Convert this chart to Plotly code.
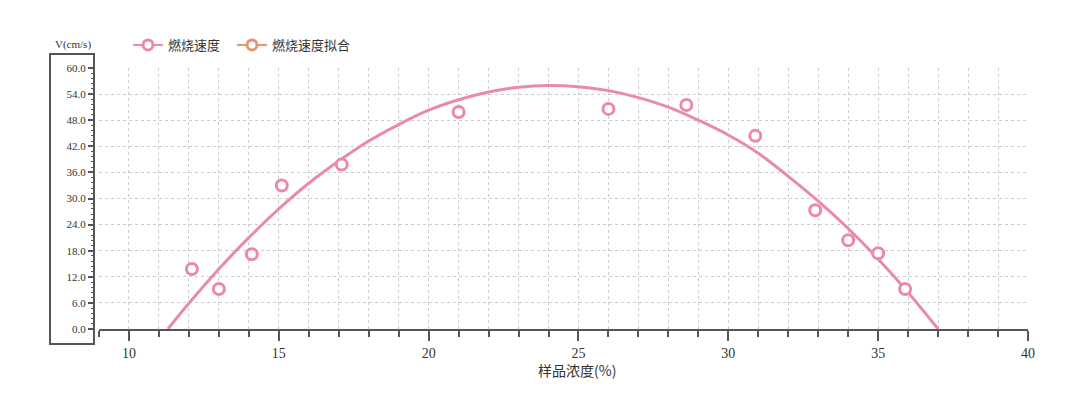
import plotly.graph_objects as go

# Measured data: sample concentration (%) vs burning velocity (cm/s)
conc = [12.1, 13.0, 14.1, 15.1, 17.1, 21.0, 26.0, 28.6, 30.9, 32.9, 34.0, 35.0, 35.9]
speed = [13.8, 9.2, 17.2, 33.0, 37.8, 49.9, 50.6, 51.5, 44.4, 27.3, 20.4, 17.4, 9.2]

# Fitted curve
fit_x = [11.3, 12, 13, 14, 15, 16, 17, 18, 19, 20, 21, 22, 23, 24, 25, 26, 27,
         28, 29, 30, 31, 32, 33, 34, 35, 36, 37]
fit_y = [0.0, 5.9, 13.8, 21.0, 27.6, 33.5, 38.6, 43.2, 47.0, 50.3, 52.7, 54.5,
         55.6, 56.0, 55.7, 54.8, 53.2, 51.0, 48.0, 44.6, 40.4, 35.1, 29.4, 23.1,
         16.1, 8.4, 0.0]

x_ticks = [10, 15, 20, 25, 30, 35, 40]
y_ticks = [0, 6, 12, 18, 24, 30, 36, 42, 48, 54, 60]

PINK = "#ea8aab"
ORANGE = "#e8956e"
AX = "#555555"
GRID = "#cccccc"

L, R, T, B = 94, 52, 68, 68
W, H = 1080, 397
pw, ph = W - L - R, H - T - B

fig = go.Figure()
fig.add_trace(go.Scatter(x=fit_x, y=fit_y, mode="lines", line=dict(color=PINK, width=3, shape="spline"),
                         showlegend=False, hoverinfo="skip"))
fig.add_trace(go.Scatter(x=conc, y=speed, mode="markers", name="燃烧速度", showlegend=False,
                         marker=dict(symbol="circle", size=11, color="white",
                                     line=dict(color=PINK, width=3))))
# legend entries
fig.add_trace(go.Scatter(x=[None], y=[None], mode="lines+markers", name="燃烧速度",
                         line=dict(color=PINK, width=2), legend="legend",
                         marker=dict(symbol="circle", size=10, color="white", line=dict(color=PINK, width=3)),
                         showlegend=True))
fig.add_trace(go.Scatter(x=[None], y=[None], mode="lines+markers", name="燃烧速度拟合",
                         line=dict(color=ORANGE, width=2), legend="legend2",
                         marker=dict(symbol="circle", size=10, color="white", line=dict(color=ORANGE, width=3)),
                         showlegend=True))

leg_common = dict(orientation="h", xanchor="left", y=(H - B - 45) / ph, yanchor="middle",
                  font=dict(family="Noto Sans CJK SC", size=13, color="#333333"),
                  itemwidth=30, bgcolor="rgba(0,0,0,0)")

x0 = 5 / pw
fig.update_layout(
    width=W, height=H,
    margin=dict(l=L, r=R, t=T, b=B),
    paper_bgcolor="white", plot_bgcolor="white",
    font=dict(family="Liberation Serif", color="#333333"),
    showlegend=True,
    legend=dict(x=(128 - L) / pw, **leg_common),
    legend2=dict(x=(232 - L) / pw, **leg_common),
    xaxis=dict(domain=[x0, 1], range=[9, 40], tickvals=x_ticks, ticktext=[str(v) for v in x_ticks],
               showgrid=True, gridcolor=GRID, griddash="dot", gridwidth=1,
               zeroline=False, showline=True, linecolor=AX, linewidth=2,
               ticks="outside", ticklen=10, tickwidth=1.5, tickcolor=AX,
               tickfont=dict(family="Liberation Serif", size=14, color="#333333"),
               minor=dict(dtick=1, tick0=9, ticks="outside", ticklen=6, tickwidth=1.5, tickcolor=AX,
                          showgrid=True, gridcolor=GRID, griddash="dot", gridwidth=1)),
    yaxis=dict(range=[0, 60], tickvals=y_ticks, ticktext=[f"{v:.1f}" for v in y_ticks],
               anchor="free", position=0,
               showgrid=True, gridcolor=GRID, griddash="dot", gridwidth=1,
               zeroline=False, showline=False,
               ticks="outside", ticklen=6, tickwidth=1.5, tickcolor=AX,
               tickfont=dict(family="Liberation Serif", size=11, color="#333333"),
               minor=dict(dtick=1.2, tick0=0, ticks="outside", ticklen=3, tickwidth=1, tickcolor=AX,
                          showgrid=False)),
)

# boxed y-axis
fig.add_shape(type="rect", xref="paper", yref="paper",
              x0=(50 - L) / pw, x1=0, y0=(H - B - 344) / ph, y1=(H - B - 54) / ph,
              line=dict(color=AX, width=2), fillcolor="rgba(0,0,0,0)", layer="above")

fig.add_annotation(text="V(cm/s)", xref="paper", yref="paper", x=(73 - L) / pw, y=(H - B - 45) / ph,
                   showarrow=False, xanchor="center", yanchor="middle",
                   font=dict(family="Liberation Serif", size=11, color="#333333"))
fig.add_annotation(text="样品浓度(%)", xref="paper", yref="paper", x=(577 - L) / pw, y=(H - B - 370) / ph,
                   showarrow=False, xanchor="center", yanchor="middle",
                   font=dict(family="Noto Sans CJK SC", size=14, color="#333333"))

fig.write_html("out.html", config={"displayModeBar": False})
with open("out.html", "r", encoding="utf-8") as f:
    html = f.read()
html = html.replace("<body>", '<body style="margin:0;padding:0;overflow:hidden">', 1)
with open("out.html", "w", encoding="utf-8") as f:
    f.write(html)
